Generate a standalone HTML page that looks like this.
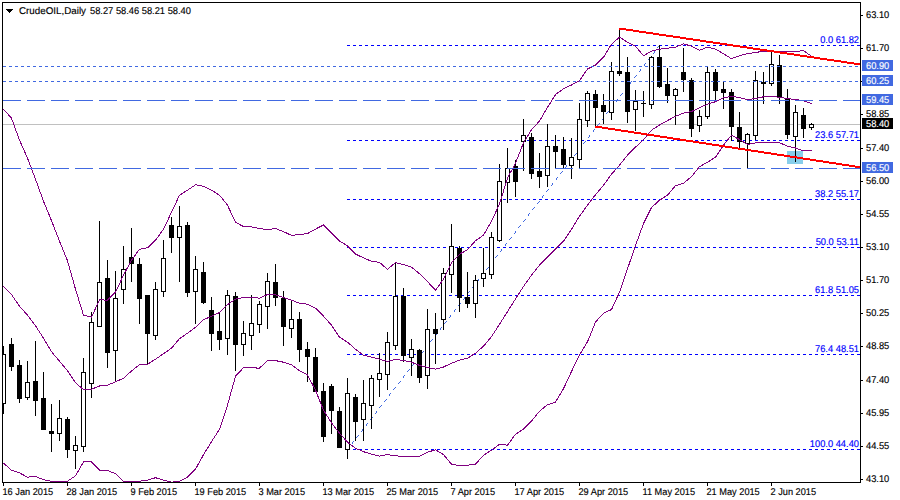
<!DOCTYPE html>
<html><head><meta charset="utf-8"><style>
html,body{margin:0;padding:0;background:#fff;}
body{width:900px;height:500px;overflow:hidden;}
svg{display:block;}
text{font-family:"Liberation Sans", sans-serif;font-size:9.8px;text-rendering:geometricPrecision;}
</style></head><body>
<svg width="900" height="500" viewBox="0 0 900 500">
<rect x="0" y="0" width="900" height="500" fill="#fff"/>
<defs><clipPath id="ca"><rect x="3" y="3" width="857" height="479"/></clipPath></defs>
<g clip-path="url(#ca)">
<rect x="787" y="151" width="16" height="13" fill="#87CEEB"/>
<rect x="3" y="124" width="857" height="1" fill="#C0C0C0"/>
<line x1="347" y1="45.5" x2="860" y2="45.5" stroke="#0000FF" stroke-width="1" stroke-dasharray="3 3" shape-rendering="crispEdges"/>
<line x1="347" y1="140.5" x2="860" y2="140.5" stroke="#0000FF" stroke-width="1" stroke-dasharray="3 3" shape-rendering="crispEdges"/>
<line x1="347" y1="199.5" x2="860" y2="199.5" stroke="#0000FF" stroke-width="1" stroke-dasharray="3 3" shape-rendering="crispEdges"/>
<line x1="347" y1="247.5" x2="860" y2="247.5" stroke="#0000FF" stroke-width="1" stroke-dasharray="3 3" shape-rendering="crispEdges"/>
<line x1="347" y1="295.5" x2="860" y2="295.5" stroke="#0000FF" stroke-width="1" stroke-dasharray="3 3" shape-rendering="crispEdges"/>
<line x1="347" y1="354.5" x2="860" y2="354.5" stroke="#0000FF" stroke-width="1" stroke-dasharray="3 3" shape-rendering="crispEdges"/>
<line x1="347" y1="449.5" x2="860" y2="449.5" stroke="#0000FF" stroke-width="1" stroke-dasharray="3 3" shape-rendering="crispEdges"/>
<path fill="#4169E1" d="M347 449h1v1h-1zM348 448h1v1h-1zM349 447h1v1h-1zM352 443h1v1h-1zM352 442h1v1h-1zM353 441h1v1h-1zM356 437h1v1h-1zM357 436h1v1h-1zM358 435h1v1h-1zM361 431h1v1h-1zM362 430h1v1h-1zM362 429h1v1h-1zM366 425h1v1h-1zM366 424h1v1h-1zM367 423h1v1h-1zM370 419h1v1h-1zM371 418h1v1h-1zM372 417h1v1h-1zM375 413h1v1h-1zM376 412h1v1h-1zM376 411h1v1h-1zM379 407h1v1h-1zM380 406h1v1h-1zM381 405h1v1h-1zM384 401h1v1h-1zM385 400h1v1h-1zM386 399h1v1h-1zM389 395h1v1h-1zM389 394h1v1h-1zM390 393h1v1h-1zM393 389h1v1h-1zM394 388h1v1h-1zM395 387h1v1h-1zM398 383h1v1h-1zM399 382h1v1h-1zM400 381h1v1h-1zM403 377h1v1h-1zM403 376h1v1h-1zM404 375h1v1h-1zM407 371h1v1h-1zM408 370h1v1h-1zM409 369h1v1h-1zM412 365h1v1h-1zM413 364h1v1h-1zM413 363h1v1h-1zM417 359h1v1h-1zM417 358h1v1h-1zM418 357h1v1h-1zM421 353h1v1h-1zM422 352h1v1h-1zM423 351h1v1h-1zM426 347h1v1h-1zM427 346h1v1h-1zM427 345h1v1h-1zM430 341h1v1h-1zM431 340h1v1h-1zM432 339h1v1h-1zM435 335h1v1h-1zM436 334h1v1h-1zM437 333h1v1h-1zM440 329h1v1h-1zM440 328h1v1h-1zM441 327h1v1h-1zM444 323h1v1h-1zM445 322h1v1h-1zM446 321h1v1h-1zM449 317h1v1h-1zM450 316h1v1h-1zM450 315h1v1h-1zM454 311h1v1h-1zM454 310h1v1h-1zM455 309h1v1h-1zM458 305h1v1h-1zM459 304h1v1h-1zM460 303h1v1h-1zM463 299h1v1h-1zM464 298h1v1h-1zM464 297h1v1h-1zM467 293h1v1h-1zM468 292h1v1h-1zM469 291h1v1h-1zM472 287h1v1h-1zM473 286h1v1h-1zM474 285h1v1h-1zM477 281h1v1h-1zM478 280h1v1h-1zM478 279h1v1h-1zM481 275h1v1h-1zM482 274h1v1h-1zM483 273h1v1h-1zM486 269h1v1h-1zM487 268h1v1h-1zM488 267h1v1h-1zM491 263h1v1h-1zM491 262h1v1h-1zM492 261h1v1h-1zM495 257h1v1h-1zM496 256h1v1h-1zM497 255h1v1h-1zM500 251h1v1h-1zM501 250h1v1h-1zM501 249h1v1h-1zM505 245h1v1h-1zM505 244h1v1h-1zM506 243h1v1h-1zM509 239h1v1h-1zM510 238h1v1h-1zM511 237h1v1h-1zM514 233h1v1h-1zM515 232h1v1h-1zM515 231h1v1h-1zM518 227h1v1h-1zM519 226h1v1h-1zM520 225h1v1h-1zM523 221h1v1h-1zM524 220h1v1h-1zM525 219h1v1h-1zM528 215h1v1h-1zM528 214h1v1h-1zM529 213h1v1h-1zM532 209h1v1h-1zM533 208h1v1h-1zM534 207h1v1h-1zM537 203h1v1h-1zM538 202h1v1h-1zM539 201h1v1h-1zM542 197h1v1h-1zM542 196h1v1h-1zM543 195h1v1h-1zM546 191h1v1h-1zM547 190h1v1h-1zM548 189h1v1h-1zM551 185h1v1h-1zM552 184h1v1h-1zM552 183h1v1h-1zM556 179h1v1h-1zM556 178h1v1h-1zM557 177h1v1h-1zM560 173h1v1h-1zM561 172h1v1h-1zM562 171h1v1h-1zM565 167h1v1h-1zM566 166h1v1h-1zM566 165h1v1h-1zM569 161h1v1h-1zM570 160h1v1h-1zM571 159h1v1h-1zM574 155h1v1h-1zM575 154h1v1h-1zM576 153h1v1h-1zM579 149h1v1h-1zM579 148h1v1h-1zM580 147h1v1h-1zM583 143h1v1h-1zM584 142h1v1h-1zM585 141h1v1h-1zM588 137h1v1h-1zM589 136h1v1h-1zM589 135h1v1h-1zM593 131h1v1h-1zM593 130h1v1h-1zM594 129h1v1h-1zM597 125h1v1h-1zM598 124h1v1h-1zM599 123h1v1h-1zM602 119h1v1h-1zM603 118h1v1h-1zM603 117h1v1h-1zM606 113h1v1h-1zM607 112h1v1h-1zM608 111h1v1h-1zM611 107h1v1h-1zM612 106h1v1h-1zM613 105h1v1h-1zM616 101h1v1h-1zM617 100h1v1h-1zM617 99h1v1h-1zM620 95h1v1h-1zM621 94h1v1h-1zM622 93h1v1h-1zM625 89h1v1h-1zM626 88h1v1h-1zM627 87h1v1h-1zM630 83h1v1h-1zM630 82h1v1h-1zM631 81h1v1h-1zM634 77h1v1h-1zM635 76h1v1h-1zM636 75h1v1h-1zM639 71h1v1h-1zM640 70h1v1h-1zM640 69h1v1h-1zM644 65h1v1h-1zM644 64h1v1h-1zM645 63h1v1h-1zM648 59h1v1h-1zM649 58h1v1h-1zM650 57h1v1h-1zM653 53h1v1h-1zM654 52h1v1h-1zM654 51h1v1h-1zM657 47h1v1h-1zM658 46h1v1h-1zM659 45h1v1h-1z"/>
</g>
<g clip-path="url(#ca)"><rect x="3" y="346" width="1" height="68" fill="#000"/><rect x="1" y="354" width="5" height="50" fill="#000"/><rect x="2" y="355" width="3" height="48" fill="#fff"/><rect x="11" y="338" width="1" height="33" fill="#000"/><rect x="9" y="344" width="5" height="23" fill="#000"/><rect x="19" y="360" width="1" height="43" fill="#000"/><rect x="17" y="365" width="5" height="34" fill="#000"/><rect x="27" y="361" width="1" height="39" fill="#000"/><rect x="25" y="382" width="5" height="16" fill="#000"/><rect x="26" y="383" width="3" height="14" fill="#fff"/><rect x="35" y="341" width="1" height="75" fill="#000"/><rect x="33" y="381" width="5" height="20" fill="#000"/><rect x="43" y="372" width="1" height="58" fill="#000"/><rect x="41" y="398" width="5" height="32" fill="#000"/><rect x="51" y="404" width="1" height="48" fill="#000"/><rect x="49" y="431" width="5" height="3" fill="#000"/><rect x="59" y="400" width="1" height="41" fill="#000"/><rect x="57" y="418" width="5" height="16" fill="#000"/><rect x="58" y="419" width="3" height="14" fill="#fff"/><rect x="67" y="417" width="1" height="41" fill="#000"/><rect x="65" y="419" width="5" height="31" fill="#000"/><rect x="75" y="436" width="1" height="33" fill="#000"/><rect x="73" y="445" width="5" height="6" fill="#000"/><rect x="74" y="446" width="3" height="4" fill="#fff"/><rect x="83" y="358" width="1" height="94" fill="#000"/><rect x="81" y="372" width="5" height="75" fill="#000"/><rect x="82" y="373" width="3" height="73" fill="#fff"/><rect x="91" y="312" width="1" height="86" fill="#000"/><rect x="89" y="322" width="5" height="62" fill="#000"/><rect x="90" y="323" width="3" height="60" fill="#fff"/><rect x="99" y="221" width="1" height="106" fill="#000"/><rect x="97" y="282" width="5" height="45" fill="#000"/><rect x="98" y="283" width="3" height="43" fill="#fff"/><rect x="107" y="260" width="1" height="108" fill="#000"/><rect x="105" y="278" width="5" height="75" fill="#000"/><rect x="115" y="271" width="1" height="110" fill="#000"/><rect x="113" y="298" width="5" height="53" fill="#000"/><rect x="114" y="299" width="3" height="51" fill="#fff"/><rect x="123" y="246" width="1" height="58" fill="#000"/><rect x="121" y="269" width="5" height="21" fill="#000"/><rect x="122" y="270" width="3" height="19" fill="#fff"/><rect x="131" y="228" width="1" height="54" fill="#000"/><rect x="129" y="257" width="5" height="7" fill="#000"/><rect x="139" y="258" width="1" height="66" fill="#000"/><rect x="137" y="264" width="5" height="35" fill="#000"/><rect x="147" y="295" width="1" height="69" fill="#000"/><rect x="145" y="295" width="5" height="39" fill="#000"/><rect x="155" y="282" width="1" height="58" fill="#000"/><rect x="153" y="289" width="5" height="47" fill="#000"/><rect x="154" y="290" width="3" height="45" fill="#fff"/><rect x="163" y="240" width="1" height="57" fill="#000"/><rect x="161" y="258" width="5" height="34" fill="#000"/><rect x="162" y="259" width="3" height="32" fill="#fff"/><rect x="171" y="217" width="1" height="36" fill="#000"/><rect x="169" y="225" width="5" height="13" fill="#000"/><rect x="179" y="206" width="1" height="76" fill="#000"/><rect x="177" y="226" width="5" height="12" fill="#000"/><rect x="178" y="227" width="3" height="10" fill="#fff"/><rect x="187" y="222" width="1" height="75" fill="#000"/><rect x="185" y="225" width="5" height="68" fill="#000"/><rect x="195" y="256" width="1" height="68" fill="#000"/><rect x="193" y="269" width="5" height="23" fill="#000"/><rect x="194" y="270" width="3" height="21" fill="#fff"/><rect x="203" y="262" width="1" height="42" fill="#000"/><rect x="201" y="272" width="5" height="31" fill="#000"/><rect x="211" y="297" width="1" height="54" fill="#000"/><rect x="209" y="310" width="5" height="24" fill="#000"/><rect x="219" y="312" width="1" height="38" fill="#000"/><rect x="217" y="331" width="5" height="9" fill="#000"/><rect x="227" y="290" width="1" height="65" fill="#000"/><rect x="225" y="295" width="5" height="44" fill="#000"/><rect x="226" y="296" width="3" height="42" fill="#fff"/><rect x="235" y="292" width="1" height="79" fill="#000"/><rect x="233" y="296" width="5" height="49" fill="#000"/><rect x="243" y="321" width="1" height="35" fill="#000"/><rect x="241" y="333" width="5" height="12" fill="#000"/><rect x="242" y="334" width="3" height="10" fill="#fff"/><rect x="251" y="295" width="1" height="55" fill="#000"/><rect x="249" y="323" width="5" height="13" fill="#000"/><rect x="250" y="324" width="3" height="11" fill="#fff"/><rect x="259" y="301" width="1" height="32" fill="#000"/><rect x="257" y="304" width="5" height="21" fill="#000"/><rect x="258" y="305" width="3" height="19" fill="#fff"/><rect x="267" y="273" width="1" height="56" fill="#000"/><rect x="265" y="281" width="5" height="26" fill="#000"/><rect x="266" y="282" width="3" height="24" fill="#fff"/><rect x="275" y="264" width="1" height="42" fill="#000"/><rect x="273" y="282" width="5" height="16" fill="#000"/><rect x="283" y="291" width="1" height="55" fill="#000"/><rect x="281" y="298" width="5" height="29" fill="#000"/><rect x="291" y="300" width="1" height="38" fill="#000"/><rect x="289" y="319" width="5" height="10" fill="#000"/><rect x="290" y="320" width="3" height="8" fill="#fff"/><rect x="299" y="312" width="1" height="50" fill="#000"/><rect x="297" y="319" width="5" height="31" fill="#000"/><rect x="307" y="342" width="1" height="40" fill="#000"/><rect x="305" y="349" width="5" height="8" fill="#000"/><rect x="315" y="348" width="1" height="44" fill="#000"/><rect x="313" y="357" width="5" height="35" fill="#000"/><rect x="323" y="383" width="1" height="59" fill="#000"/><rect x="321" y="391" width="5" height="46" fill="#000"/><rect x="331" y="384" width="1" height="50" fill="#000"/><rect x="329" y="386" width="5" height="25" fill="#000"/><rect x="339" y="407" width="1" height="41" fill="#000"/><rect x="337" y="411" width="5" height="37" fill="#000"/><rect x="347" y="378" width="1" height="81" fill="#000"/><rect x="345" y="393" width="5" height="57" fill="#000"/><rect x="346" y="394" width="3" height="55" fill="#fff"/><rect x="355" y="394" width="1" height="47" fill="#000"/><rect x="353" y="397" width="5" height="25" fill="#000"/><rect x="363" y="380" width="1" height="61" fill="#000"/><rect x="361" y="403" width="5" height="17" fill="#000"/><rect x="362" y="404" width="3" height="15" fill="#fff"/><rect x="371" y="375" width="1" height="54" fill="#000"/><rect x="369" y="378" width="5" height="28" fill="#000"/><rect x="370" y="379" width="3" height="26" fill="#fff"/><rect x="379" y="353" width="1" height="44" fill="#000"/><rect x="377" y="373" width="5" height="7" fill="#000"/><rect x="378" y="374" width="3" height="5" fill="#fff"/><rect x="387" y="332" width="1" height="58" fill="#000"/><rect x="385" y="342" width="5" height="33" fill="#000"/><rect x="386" y="343" width="3" height="31" fill="#fff"/><rect x="395" y="262" width="1" height="88" fill="#000"/><rect x="393" y="296" width="5" height="50" fill="#000"/><rect x="394" y="297" width="3" height="48" fill="#fff"/><rect x="403" y="288" width="1" height="74" fill="#000"/><rect x="401" y="296" width="5" height="60" fill="#000"/><rect x="411" y="339" width="1" height="37" fill="#000"/><rect x="409" y="349" width="5" height="9" fill="#000"/><rect x="410" y="350" width="3" height="7" fill="#fff"/><rect x="419" y="349" width="1" height="34" fill="#000"/><rect x="417" y="350" width="5" height="28" fill="#000"/><rect x="427" y="309" width="1" height="80" fill="#000"/><rect x="425" y="329" width="5" height="47" fill="#000"/><rect x="426" y="330" width="3" height="45" fill="#fff"/><rect x="435" y="313" width="1" height="51" fill="#000"/><rect x="433" y="329" width="5" height="5" fill="#000"/><rect x="443" y="268" width="1" height="62" fill="#000"/><rect x="441" y="273" width="5" height="47" fill="#000"/><rect x="442" y="274" width="3" height="45" fill="#fff"/><rect x="451" y="224" width="1" height="69" fill="#000"/><rect x="449" y="246" width="5" height="29" fill="#000"/><rect x="450" y="247" width="3" height="27" fill="#fff"/><rect x="459" y="246" width="1" height="66" fill="#000"/><rect x="457" y="248" width="5" height="50" fill="#000"/><rect x="467" y="272" width="1" height="36" fill="#000"/><rect x="465" y="297" width="5" height="7" fill="#000"/><rect x="475" y="275" width="1" height="43" fill="#000"/><rect x="473" y="280" width="5" height="24" fill="#000"/><rect x="474" y="281" width="3" height="22" fill="#fff"/><rect x="483" y="248" width="1" height="39" fill="#000"/><rect x="481" y="273" width="5" height="6" fill="#000"/><rect x="482" y="274" width="3" height="4" fill="#fff"/><rect x="491" y="232" width="1" height="47" fill="#000"/><rect x="489" y="237" width="5" height="38" fill="#000"/><rect x="490" y="238" width="3" height="36" fill="#fff"/><rect x="499" y="164" width="1" height="78" fill="#000"/><rect x="497" y="181" width="5" height="60" fill="#000"/><rect x="498" y="182" width="3" height="58" fill="#fff"/><rect x="507" y="148" width="1" height="55" fill="#000"/><rect x="505" y="168" width="5" height="15" fill="#000"/><rect x="506" y="169" width="3" height="13" fill="#fff"/><rect x="515" y="160" width="1" height="37" fill="#000"/><rect x="513" y="166" width="5" height="16" fill="#000"/><rect x="523" y="119" width="1" height="52" fill="#000"/><rect x="521" y="135" width="5" height="7" fill="#000"/><rect x="522" y="136" width="3" height="5" fill="#fff"/><rect x="531" y="133" width="1" height="46" fill="#000"/><rect x="529" y="137" width="5" height="37" fill="#000"/><rect x="539" y="153" width="1" height="35" fill="#000"/><rect x="537" y="171" width="5" height="6" fill="#000"/><rect x="547" y="124" width="1" height="63" fill="#000"/><rect x="545" y="146" width="5" height="30" fill="#000"/><rect x="546" y="147" width="3" height="28" fill="#fff"/><rect x="555" y="135" width="1" height="33" fill="#000"/><rect x="553" y="146" width="5" height="6" fill="#000"/><rect x="563" y="137" width="1" height="31" fill="#000"/><rect x="561" y="149" width="5" height="16" fill="#000"/><rect x="571" y="138" width="1" height="41" fill="#000"/><rect x="569" y="157" width="5" height="9" fill="#000"/><rect x="570" y="158" width="3" height="7" fill="#fff"/><rect x="579" y="103" width="1" height="65" fill="#000"/><rect x="577" y="119" width="5" height="41" fill="#000"/><rect x="578" y="120" width="3" height="39" fill="#fff"/><rect x="587" y="91" width="1" height="36" fill="#000"/><rect x="585" y="93" width="5" height="28" fill="#000"/><rect x="586" y="94" width="3" height="26" fill="#fff"/><rect x="595" y="90" width="1" height="36" fill="#000"/><rect x="593" y="94" width="5" height="14" fill="#000"/><rect x="603" y="94" width="1" height="30" fill="#000"/><rect x="601" y="105" width="5" height="7" fill="#000"/><rect x="611" y="62" width="1" height="58" fill="#000"/><rect x="609" y="71" width="5" height="42" fill="#000"/><rect x="610" y="72" width="3" height="40" fill="#fff"/><rect x="619" y="29" width="1" height="47" fill="#000"/><rect x="617" y="71" width="5" height="3" fill="#000"/><rect x="627" y="57" width="1" height="66" fill="#000"/><rect x="625" y="72" width="5" height="40" fill="#000"/><rect x="635" y="90" width="1" height="41" fill="#000"/><rect x="633" y="101" width="5" height="9" fill="#000"/><rect x="634" y="102" width="3" height="7" fill="#fff"/><rect x="643" y="91" width="1" height="26" fill="#000"/><rect x="641" y="103" width="5" height="1" fill="#000"/><rect x="651" y="56" width="1" height="53" fill="#000"/><rect x="649" y="57" width="5" height="48" fill="#000"/><rect x="650" y="58" width="3" height="46" fill="#fff"/><rect x="659" y="45" width="1" height="43" fill="#000"/><rect x="657" y="57" width="5" height="30" fill="#000"/><rect x="667" y="68" width="1" height="35" fill="#000"/><rect x="665" y="84" width="5" height="12" fill="#000"/><rect x="675" y="88" width="1" height="37" fill="#000"/><rect x="673" y="89" width="5" height="7" fill="#000"/><rect x="674" y="90" width="3" height="5" fill="#fff"/><rect x="683" y="48" width="1" height="44" fill="#000"/><rect x="681" y="72" width="5" height="8" fill="#000"/><rect x="691" y="78" width="1" height="59" fill="#000"/><rect x="689" y="80" width="5" height="49" fill="#000"/><rect x="699" y="110" width="1" height="22" fill="#000"/><rect x="697" y="116" width="5" height="10" fill="#000"/><rect x="698" y="117" width="3" height="8" fill="#fff"/><rect x="707" y="67" width="1" height="52" fill="#000"/><rect x="705" y="72" width="5" height="45" fill="#000"/><rect x="706" y="73" width="3" height="43" fill="#fff"/><rect x="715" y="69" width="1" height="33" fill="#000"/><rect x="713" y="72" width="5" height="19" fill="#000"/><rect x="723" y="82" width="1" height="27" fill="#000"/><rect x="721" y="89" width="5" height="4" fill="#000"/><rect x="731" y="89" width="1" height="52" fill="#000"/><rect x="729" y="92" width="5" height="35" fill="#000"/><rect x="739" y="112" width="1" height="36" fill="#000"/><rect x="737" y="127" width="5" height="15" fill="#000"/><rect x="747" y="133" width="1" height="35" fill="#000"/><rect x="745" y="134" width="5" height="10" fill="#000"/><rect x="746" y="135" width="3" height="8" fill="#fff"/><rect x="755" y="71" width="1" height="69" fill="#000"/><rect x="753" y="80" width="5" height="56" fill="#000"/><rect x="754" y="81" width="3" height="54" fill="#fff"/><rect x="763" y="72" width="1" height="32" fill="#000"/><rect x="761" y="82" width="5" height="2" fill="#000"/><rect x="771" y="52" width="1" height="34" fill="#000"/><rect x="769" y="64" width="5" height="20" fill="#000"/><rect x="770" y="65" width="3" height="18" fill="#fff"/><rect x="779" y="55" width="1" height="49" fill="#000"/><rect x="777" y="65" width="5" height="32" fill="#000"/><rect x="787" y="89" width="1" height="50" fill="#000"/><rect x="785" y="98" width="5" height="37" fill="#000"/><rect x="795" y="105" width="1" height="57" fill="#000"/><rect x="793" y="112" width="5" height="25" fill="#000"/><rect x="794" y="113" width="3" height="23" fill="#fff"/><rect x="803" y="108" width="1" height="30" fill="#000"/><rect x="801" y="115" width="5" height="14" fill="#000"/><rect x="811" y="123" width="1" height="7" fill="#000"/><rect x="809" y="124" width="5" height="4" fill="#000"/><rect x="810" y="125" width="3" height="2" fill="#fff"/></g>
<g clip-path="url(#ca)" fill="none" stroke="#800080" stroke-width="1" shape-rendering="crispEdges">
<polyline points="3.5,109.2 11.5,118.2 19.5,140.2 27.5,158.2 35.5,179.2 43.5,201.2 51.5,220.6 59.5,241.2 67.5,260.8 75.5,289.2 83.5,315.2 91.5,317.2 99.5,299.7 107.5,300.2 115.5,292.2 123.5,275.2 131.5,260.2 139.5,249.2 147.5,247.8 155.5,240.2 163.5,229.2 171.5,212.2 179.5,195.2 187.5,190.2 195.5,184.8 203.5,186.2 211.5,190.2 219.5,195.2 227.5,205.2 235.5,222.2 243.5,226.6 251.5,226.8 259.5,228.6 267.5,229.6 275.5,228.5 283.5,231.6 291.5,235.4 299.5,234.6 307.5,233.5 315.5,229.1 323.5,225.0 331.5,233.0 339.5,241.0 347.5,245.8 355.5,254.1 363.5,257.8 371.5,261.3 379.5,262.4 387.5,269.4 395.5,262.6 403.5,264.6 411.5,267.2 419.5,273.7 427.5,281.7 435.5,290.2 443.5,279.2 451.5,262.7 459.5,254.2 467.5,249.7 475.5,240.7 483.5,235.2 491.5,221.2 499.5,204.0 507.5,178.0 515.5,163.2 523.5,142.7 531.5,129.8 539.5,121.0 547.5,107.4 555.5,94.6 563.5,88.7 571.5,85.0 579.5,80.7 587.5,69.0 595.5,65.0 603.5,57.2 611.5,44.2 619.5,37.2 627.5,42.2 635.5,46.2 643.5,55.8 651.5,51.2 659.5,49.2 667.5,48.2 675.5,47.2 683.5,43.8 691.5,46.2 699.5,50.2 707.5,47.2 715.5,49.2 723.5,53.8 731.5,58.7 739.5,55.7 747.5,53.7 755.5,52.5 763.5,51.2 771.5,51.2 779.5,51.7 787.5,51.7 795.5,51.5 803.5,50.7 811.5,56.2"/>
<polyline points="3.5,286.2 11.5,294.6 19.5,306.2 27.5,315.2 35.5,325.8 43.5,338.2 51.5,351.7 59.5,361.2 67.5,370.8 75.5,382.7 83.5,389.7 91.5,389.2 99.5,386.0 107.5,385.2 115.5,381.8 123.5,378.2 131.5,371.0 139.5,364.7 147.5,364.2 155.5,359.2 163.5,353.7 171.5,348.2 179.5,338.7 187.5,333.2 195.5,327.2 203.5,319.8 211.5,316.2 219.5,312.6 227.5,304.6 235.5,299.2 243.5,297.4 251.5,297.2 259.5,298.2 267.5,294.6 275.5,294.8 283.5,297.6 291.5,300.2 299.5,303.2 307.5,304.2 315.5,308.2 323.5,316.2 331.5,325.2 339.5,337.2 347.5,342.2 355.5,349.2 363.5,355.2 371.5,357.2 379.5,359.2 387.5,361.5 395.5,359.2 403.5,360.5 411.5,362.2 419.5,365.4 427.5,367.4 435.5,369.2 443.5,367.0 451.5,363.2 459.5,360.2 467.5,358.2 475.5,353.2 483.5,346.2 491.5,336.7 499.5,324.2 507.5,311.6 515.5,299.0 523.5,286.4 531.5,275.2 539.5,265.2 547.5,257.2 555.5,249.2 563.5,241.2 571.5,229.2 579.5,216.2 587.5,205.2 595.5,194.7 603.5,185.2 611.5,174.2 619.5,165.2 627.5,155.2 635.5,147.2 643.5,139.7 651.5,130.2 659.5,125.0 667.5,120.6 675.5,116.2 683.5,113.2 691.5,111.5 699.5,107.7 707.5,104.2 715.5,101.7 723.5,97.7 731.5,96.5 739.5,97.5 747.5,99.7 755.5,98.5 763.5,96.8 771.5,96.5 779.5,97.2 787.5,98.7 795.5,99.5 803.5,100.7 811.5,103.7"/>
<polyline points="3.5,463.2 11.5,470.2 19.5,472.9 27.5,477.2 35.5,476.4 43.5,479.8 51.5,481.2 59.5,481.2 67.5,481.2 75.5,475.9 83.5,461.8 91.5,461.8 99.5,470.2 107.5,470.4 115.5,473.7 123.5,481.2 131.5,481.7 139.5,481.2 147.5,480.2 155.5,477.7 163.5,480.2 171.5,482.2 179.5,481.2 187.5,477.2 195.5,469.2 203.5,454.7 211.5,441.7 219.5,429.2 227.5,405.2 235.5,376.2 243.5,367.7 251.5,367.7 259.5,368.2 267.5,360.4 275.5,360.6 283.5,362.2 291.5,364.7 299.5,370.7 307.5,375.0 315.5,390.2 323.5,410.2 331.5,422.9 339.5,433.2 347.5,442.2 355.5,448.2 363.5,451.7 371.5,454.2 379.5,456.2 387.5,454.6 395.5,455.9 403.5,456.2 411.5,456.2 419.5,456.2 427.5,452.2 435.5,449.8 443.5,454.6 451.5,464.2 459.5,465.5 467.5,465.2 475.5,464.2 483.5,455.2 491.5,450.2 499.5,444.2 507.5,445.2 515.5,434.2 523.5,429.2 531.5,421.2 539.5,411.2 547.5,404.7 555.5,402.2 563.5,388.7 571.5,371.5 579.5,355.0 587.5,341.8 595.5,322.1 603.5,313.2 611.5,309.5 619.5,292.2 627.5,268.9 635.5,245.5 643.5,223.6 651.5,207.6 659.5,200.2 667.5,195.2 675.5,185.7 683.5,183.2 691.5,176.7 699.5,166.7 707.5,162.2 715.5,157.2 723.5,145.2 731.5,135.2 739.5,139.6 747.5,144.4 755.5,143.0 763.5,142.7 771.5,142.7 779.5,142.7 787.5,146.2 795.5,148.0 803.5,150.8 811.5,150.8"/>
</g>
<g clip-path="url(#ca)">
<line x1="3" y1="66.5" x2="860" y2="66.5" stroke="#4169E1" stroke-width="1" stroke-dasharray="3 3" shape-rendering="crispEdges"/>
<line x1="3" y1="81.5" x2="860" y2="81.5" stroke="#4169E1" stroke-width="1" stroke-dasharray="3 3" shape-rendering="crispEdges"/>
<line x1="3" y1="100.5" x2="860" y2="100.5" stroke="#4169E1" stroke-width="1" stroke-dasharray="18 6" shape-rendering="crispEdges"/>
<line x1="3" y1="168.5" x2="860" y2="168.5" stroke="#4169E1" stroke-width="1" stroke-dasharray="18 6" shape-rendering="crispEdges"/>
<g fill="#FF0000"><rect x="619" y="28" width="7" height="2"/><rect x="626" y="29" width="7" height="2"/><rect x="633" y="30" width="6" height="2"/><rect x="639" y="31" width="7" height="2"/><rect x="646" y="32" width="7" height="2"/><rect x="653" y="33" width="6" height="2"/><rect x="659" y="34" width="7" height="2"/><rect x="666" y="35" width="7" height="2"/><rect x="673" y="36" width="7" height="2"/><rect x="680" y="37" width="6" height="2"/><rect x="686" y="38" width="7" height="2"/><rect x="693" y="39" width="7" height="2"/><rect x="700" y="40" width="6" height="2"/><rect x="706" y="41" width="7" height="2"/><rect x="713" y="42" width="7" height="2"/><rect x="720" y="43" width="7" height="2"/><rect x="727" y="44" width="6" height="2"/><rect x="733" y="45" width="7" height="2"/><rect x="740" y="46" width="7" height="2"/><rect x="747" y="47" width="6" height="2"/><rect x="753" y="48" width="7" height="2"/><rect x="760" y="49" width="7" height="2"/><rect x="767" y="50" width="7" height="2"/><rect x="774" y="51" width="6" height="2"/><rect x="780" y="52" width="7" height="2"/><rect x="787" y="53" width="7" height="2"/><rect x="794" y="54" width="6" height="2"/><rect x="800" y="55" width="7" height="2"/><rect x="807" y="56" width="7" height="2"/><rect x="814" y="57" width="6" height="2"/><rect x="820" y="58" width="7" height="2"/><rect x="827" y="59" width="7" height="2"/><rect x="834" y="60" width="7" height="2"/><rect x="841" y="61" width="6" height="2"/><rect x="847" y="62" width="7" height="2"/><rect x="854" y="63" width="6" height="2"/><rect x="595" y="126" width="7" height="2"/><rect x="602" y="127" width="6" height="2"/><rect x="608" y="128" width="7" height="2"/><rect x="615" y="129" width="6" height="2"/><rect x="621" y="130" width="7" height="2"/><rect x="628" y="131" width="6" height="2"/><rect x="634" y="132" width="7" height="2"/><rect x="641" y="133" width="6" height="2"/><rect x="647" y="134" width="7" height="2"/><rect x="654" y="135" width="6" height="2"/><rect x="660" y="136" width="7" height="2"/><rect x="667" y="137" width="6" height="2"/><rect x="673" y="138" width="7" height="2"/><rect x="680" y="139" width="6" height="2"/><rect x="686" y="140" width="7" height="2"/><rect x="693" y="141" width="6" height="2"/><rect x="699" y="142" width="7" height="2"/><rect x="706" y="143" width="6" height="2"/><rect x="712" y="144" width="7" height="2"/><rect x="719" y="145" width="6" height="2"/><rect x="725" y="146" width="7" height="2"/><rect x="732" y="147" width="6" height="2"/><rect x="738" y="148" width="7" height="2"/><rect x="745" y="149" width="6" height="2"/><rect x="751" y="150" width="7" height="2"/><rect x="758" y="151" width="6" height="2"/><rect x="764" y="152" width="7" height="2"/><rect x="771" y="153" width="6" height="2"/><rect x="777" y="154" width="7" height="2"/><rect x="784" y="155" width="6" height="2"/><rect x="790" y="156" width="7" height="2"/><rect x="797" y="157" width="6" height="2"/><rect x="803" y="158" width="7" height="2"/><rect x="810" y="159" width="6" height="2"/><rect x="816" y="160" width="7" height="2"/><rect x="823" y="161" width="6" height="2"/><rect x="829" y="162" width="7" height="2"/><rect x="836" y="163" width="6" height="2"/><rect x="842" y="164" width="7" height="2"/><rect x="849" y="165" width="6" height="2"/><rect x="855" y="166" width="5" height="2"/></g>
</g>
<text transform="translate(859,43) scale(0.95,1.0)" text-anchor="end" fill="#0000FF" stroke="#0000FF" stroke-width="0.15">0.0 61.82</text>
<text transform="translate(859,138) scale(0.95,1.0)" text-anchor="end" fill="#0000FF" stroke="#0000FF" stroke-width="0.15">23.6 57.71</text>
<text transform="translate(859,197) scale(0.95,1.0)" text-anchor="end" fill="#0000FF" stroke="#0000FF" stroke-width="0.15">38.2 55.17</text>
<text transform="translate(859,245) scale(0.95,1.0)" text-anchor="end" fill="#0000FF" stroke="#0000FF" stroke-width="0.15">50.0 53.11</text>
<text transform="translate(859,293) scale(0.95,1.0)" text-anchor="end" fill="#0000FF" stroke="#0000FF" stroke-width="0.15">61.8 51.05</text>
<text transform="translate(859,352) scale(0.95,1.0)" text-anchor="end" fill="#0000FF" stroke="#0000FF" stroke-width="0.15">76.4 48.51</text>
<text transform="translate(859,447) scale(0.95,1.0)" text-anchor="end" fill="#0000FF" stroke="#0000FF" stroke-width="0.15">100.0 44.40</text>
<rect x="2.5" y="2.5" width="858" height="480" fill="none" stroke="#000" stroke-width="1" shape-rendering="crispEdges"/>
<rect x="861" y="15" width="2" height="1" fill="#000"/>
<text transform="translate(866,18) scale(0.95,1.0)" fill="#000" stroke="#000" stroke-width="0.15">63.10</text>
<rect x="861" y="48" width="2" height="1" fill="#000"/>
<text transform="translate(866,51) scale(0.95,1.0)" fill="#000" stroke="#000" stroke-width="0.15">61.70</text>
<rect x="861" y="81" width="2" height="1" fill="#000"/>
<text transform="translate(866,84) scale(0.95,1.0)" fill="#000" stroke="#000" stroke-width="0.15">60.25</text>
<rect x="861" y="114" width="2" height="1" fill="#000"/>
<text transform="translate(866,117) scale(0.95,1.0)" fill="#000" stroke="#000" stroke-width="0.15">58.85</text>
<rect x="861" y="148" width="2" height="1" fill="#000"/>
<text transform="translate(866,151) scale(0.95,1.0)" fill="#000" stroke="#000" stroke-width="0.15">57.40</text>
<rect x="861" y="181" width="2" height="1" fill="#000"/>
<text transform="translate(866,184) scale(0.95,1.0)" fill="#000" stroke="#000" stroke-width="0.15">56.00</text>
<rect x="861" y="214" width="2" height="1" fill="#000"/>
<text transform="translate(866,217) scale(0.95,1.0)" fill="#000" stroke="#000" stroke-width="0.15">54.55</text>
<rect x="861" y="247" width="2" height="1" fill="#000"/>
<text transform="translate(866,250) scale(0.95,1.0)" fill="#000" stroke="#000" stroke-width="0.15">53.10</text>
<rect x="861" y="280" width="2" height="1" fill="#000"/>
<text transform="translate(866,283) scale(0.95,1.0)" fill="#000" stroke="#000" stroke-width="0.15">51.70</text>
<rect x="861" y="313" width="2" height="1" fill="#000"/>
<text transform="translate(866,316) scale(0.95,1.0)" fill="#000" stroke="#000" stroke-width="0.15">50.25</text>
<rect x="861" y="346" width="2" height="1" fill="#000"/>
<text transform="translate(866,349) scale(0.95,1.0)" fill="#000" stroke="#000" stroke-width="0.15">48.85</text>
<rect x="861" y="380" width="2" height="1" fill="#000"/>
<text transform="translate(866,383) scale(0.95,1.0)" fill="#000" stroke="#000" stroke-width="0.15">47.40</text>
<rect x="861" y="413" width="2" height="1" fill="#000"/>
<text transform="translate(866,416) scale(0.95,1.0)" fill="#000" stroke="#000" stroke-width="0.15">45.95</text>
<rect x="861" y="446" width="2" height="1" fill="#000"/>
<text transform="translate(866,449) scale(0.95,1.0)" fill="#000" stroke="#000" stroke-width="0.15">44.55</text>
<rect x="861" y="479" width="2" height="1" fill="#000"/>
<text transform="translate(866,482) scale(0.95,1.0)" fill="#000" stroke="#000" stroke-width="0.15">43.10</text>
<rect x="862" y="60" width="31" height="11" fill="#4169E1"/>
<text transform="translate(866,69) scale(0.95,1.0)" fill="#fff" stroke="#fff" stroke-width="0.15">60.90</text>
<rect x="862" y="75" width="31" height="11" fill="#4169E1"/>
<text transform="translate(866,84) scale(0.95,1.0)" fill="#fff" stroke="#fff" stroke-width="0.15">60.25</text>
<rect x="862" y="94" width="31" height="11" fill="#4169E1"/>
<text transform="translate(866,103) scale(0.95,1.0)" fill="#fff" stroke="#fff" stroke-width="0.15">59.45</text>
<rect x="862" y="162" width="31" height="11" fill="#4169E1"/>
<text transform="translate(866,171) scale(0.95,1.0)" fill="#fff" stroke="#fff" stroke-width="0.15">56.50</text>
<rect x="862" y="118" width="31" height="11" fill="#000"/>
<text transform="translate(866,127) scale(0.95,1.0)" fill="#fff" stroke="#fff" stroke-width="0.15">58.40</text>
<rect x="3" y="483" width="1" height="3" fill="#000"/>
<text transform="translate(2.5,495) scale(0.94,1.0)" fill="#000" stroke="#000" stroke-width="0.15">16 Jan 2015</text>
<rect x="67" y="483" width="1" height="3" fill="#000"/>
<text transform="translate(66.5,495) scale(0.94,1.0)" fill="#000" stroke="#000" stroke-width="0.15">28 Jan 2015</text>
<rect x="131" y="483" width="1" height="3" fill="#000"/>
<text transform="translate(130.5,495) scale(0.94,1.0)" fill="#000" stroke="#000" stroke-width="0.15">9 Feb 2015</text>
<rect x="195" y="483" width="1" height="3" fill="#000"/>
<text transform="translate(194.5,495) scale(0.94,1.0)" fill="#000" stroke="#000" stroke-width="0.15">19 Feb 2015</text>
<rect x="259" y="483" width="1" height="3" fill="#000"/>
<text transform="translate(258.5,495) scale(0.94,1.0)" fill="#000" stroke="#000" stroke-width="0.15">3 Mar 2015</text>
<rect x="323" y="483" width="1" height="3" fill="#000"/>
<text transform="translate(322.5,495) scale(0.94,1.0)" fill="#000" stroke="#000" stroke-width="0.15">13 Mar 2015</text>
<rect x="387" y="483" width="1" height="3" fill="#000"/>
<text transform="translate(386.5,495) scale(0.94,1.0)" fill="#000" stroke="#000" stroke-width="0.15">25 Mar 2015</text>
<rect x="451" y="483" width="1" height="3" fill="#000"/>
<text transform="translate(450.5,495) scale(0.94,1.0)" fill="#000" stroke="#000" stroke-width="0.15">7 Apr 2015</text>
<rect x="515" y="483" width="1" height="3" fill="#000"/>
<text transform="translate(514.5,495) scale(0.94,1.0)" fill="#000" stroke="#000" stroke-width="0.15">17 Apr 2015</text>
<rect x="579" y="483" width="1" height="3" fill="#000"/>
<text transform="translate(578.5,495) scale(0.94,1.0)" fill="#000" stroke="#000" stroke-width="0.15">29 Apr 2015</text>
<rect x="643" y="483" width="1" height="3" fill="#000"/>
<text transform="translate(642.5,495) scale(0.94,1.0)" fill="#000" stroke="#000" stroke-width="0.15">11 May 2015</text>
<rect x="707" y="483" width="1" height="3" fill="#000"/>
<text transform="translate(706.5,495) scale(0.94,1.0)" fill="#000" stroke="#000" stroke-width="0.15">21 May 2015</text>
<rect x="771" y="483" width="1" height="3" fill="#000"/>
<text transform="translate(770.5,495) scale(0.94,1.0)" fill="#000" stroke="#000" stroke-width="0.15">2 Jun 2015</text>
<rect x="6" y="9" width="7" height="1"/><rect x="7" y="10" width="5" height="1"/><rect x="8" y="11" width="3" height="1"/><rect x="9" y="12" width="1" height="1"/>
<text transform="translate(19,14) scale(1.0,1.0)" fill="#000" stroke="#000" stroke-width="0.15">CrudeOIL,Daily</text>
<text transform="translate(90,14) scale(0.95,1.0)" fill="#000" stroke="#000" stroke-width="0.15">58.27 58.46 58.21 58.40</text>
</svg>
</body></html>
